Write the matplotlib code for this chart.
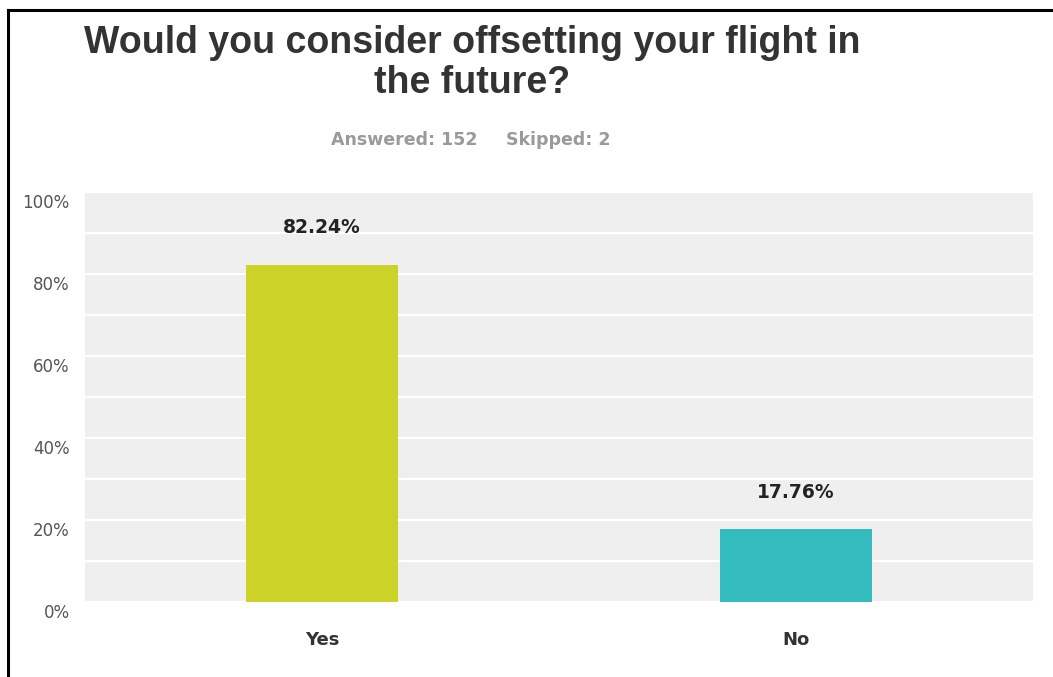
import matplotlib.pyplot as plt
import matplotlib.transforms as mtransforms
from matplotlib.lines import Line2D

# svarsfördelning
categories = ["Yes", "No"]
percentages = [82.24, 17.76]
bar_colors = ["#cdd228", "#33bbbe"]
answered = 152
skipped = 2
y_ticks = [0, 20, 40, 60, 80, 100]

plt.rcParams['font.family'] = ['DejaVu Sans']

fig = plt.figure(figsize=(10.53, 6.77), dpi=100)
ax = fig.add_axes([85 / 1053, 1 - 602 / 677, 948 / 1053, 410 / 677])

x = range(len(categories))
bars = ax.bar(x, percentages, width=0.32, color=bar_colors, zorder=3)

ax.set_xlim(-0.5, len(categories) - 0.5)
ax.set_ylim(0, 100)
ax.set_facecolor("#efefef")
for s in ax.spines.values():
    s.set_visible(False)

# vita stödlinjer var tionde procent
ax.set_yticks(range(0, 101, 10), minor=True)
ax.grid(axis="y", which="both", color="white", linewidth=1.6, zorder=1)
ax.tick_params(axis="both", which="both", length=0)

ax.set_yticks(y_ticks)
ax.set_yticklabels([f"{t}%" for t in y_ticks], fontsize=12, color="#555555")
ax.tick_params(axis="y", pad=11)
# etiketterna ligger lite under linjerna
shift = mtransforms.ScaledTranslation(0, -9 / 100, fig.dpi_scale_trans)
for lab in ax.get_yticklabels():
    lab.set_transform(lab.get_transform() + shift)

ax.set_xticks(list(x))
ax.set_xticklabels(categories, fontsize=13, fontweight="bold", color="#333333")
ax.tick_params(axis="x", pad=21)

for b, v in zip(bars, percentages):
    ax.annotate(f"{v:.2f}%", (b.get_x() + b.get_width() / 2, v),
                xytext=(0, 37), textcoords="offset pixels",
                ha="center", va="center", fontsize=13.5, fontweight="bold",
                color="#222222")

fig.text(472 / 1053, 1 - 63 / 677,
         "Would you consider offsetting your flight in\nthe future?",
         ha="center", va="center", fontsize=27, fontweight="bold",
         color="#333333", linespacing=1.12, family="Liberation Sans")
fig.text(404 / 1053, 1 - 140 / 677, f"Answered: {answered}", ha="center",
         va="center", fontsize=12.5, fontweight="bold", color="#9a9a9a")
fig.text(558 / 1053, 1 - 140 / 677, f"Skipped: {skipped}", ha="center",
         va="center", fontsize=12.5, fontweight="bold", color="#9a9a9a")

# svart ram uppe och till vänster
fig.add_artist(Line2D([8 / 1053, 8 / 1053], [0, 1 - 10 / 677],
                      transform=fig.transFigure, color="black", linewidth=2.2))
fig.add_artist(Line2D([8 / 1053, 1], [1 - 10 / 677, 1 - 10 / 677],
                      transform=fig.transFigure, color="black", linewidth=2.2))

fig.savefig("out.png", dpi=100)
